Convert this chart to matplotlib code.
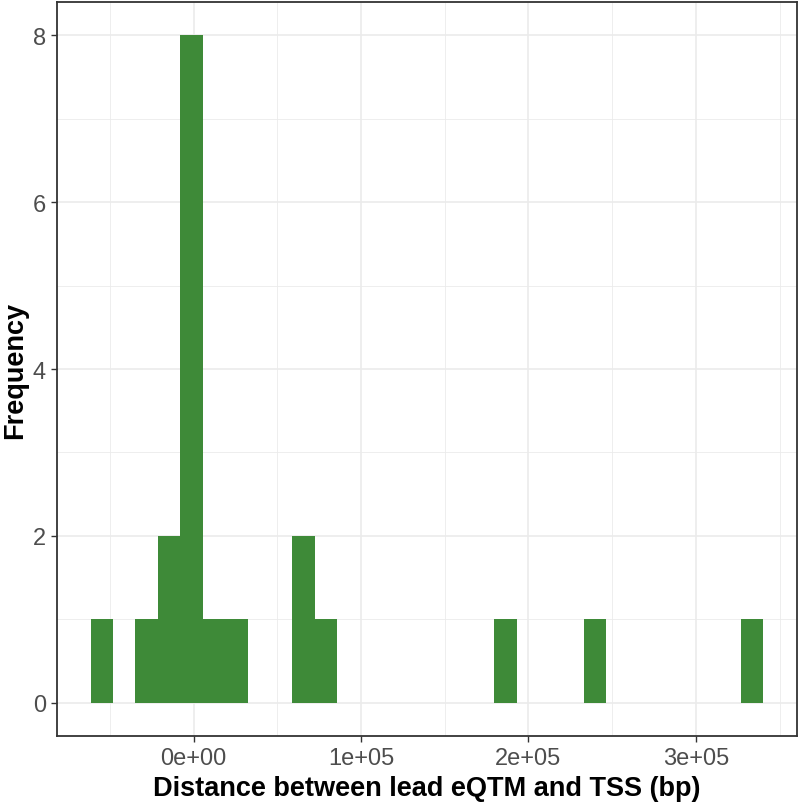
import numpy as np
from matplotlib import pyplot as plt

# histogram of distance between lead eQTM and TSS (30 bins, ggplot style)
dist_min = -54800    # centre of first bin (bp)
dist_max = 333600    # centre of last bin (bp)
counts = [1, 0, 1, 2, 8, 1, 1, 0, 0, 2,
          1, 0, 0, 0, 0, 0, 0, 0, 1, 0,
          0, 0, 1, 0, 0, 0, 0, 0, 0, 1]
x_ticks = [0, 100000, 200000, 300000]
x_labels = ["0e+00", "1e+05", "2e+05", "3e+05"]
y_ticks = [0, 2, 4, 6, 8]

n_bins = len(counts)
width = (dist_max - dist_min) / (n_bins - 1)
edges = dist_min - width / 2 + width * np.arange(n_bins + 1)
counts = np.array(counts)

plt.rcParams['font.family'] = ['Liberation Sans', 'DejaVu Sans']

fig = plt.figure(figsize=(8, 8.03), dpi=100)
ax = fig.add_axes([0.07125, 0.0822, 0.925, 0.914])

ax.bar(edges[:-1], counts, width=width, align='edge', color='#3e8a38',
       linewidth=0, zorder=3)

# ggplot-like expansion
xr = edges[-1] - edges[0]
ax.set_xlim(edges[0] - 0.05 * xr, edges[-1] + 0.05 * xr)
ax.set_ylim(-0.05 * 8, 8 * 1.05)

ax.set_xticks(x_ticks)
ax.set_xticklabels(x_labels)
ax.set_yticks(y_ticks)
ax.set_xticks([-50000, 50000, 150000, 250000, 350000], minor=True)
ax.set_yticks([1, 3, 5, 7], minor=True)

ax.grid(which='major', color='#ebebeb', linewidth=1.2, zorder=0)
ax.grid(which='minor', color='#ebebeb', linewidth=0.6, zorder=0)
ax.set_axisbelow(True)

for s in ax.spines.values():
    s.set_color('#333333')
    s.set_linewidth(1.3)

ax.tick_params(which='major', length=4, width=1, color='#333333',
               labelsize=17, labelcolor='#4d4d4d', pad=4)
ax.tick_params(which='minor', length=0)

ax.set_xlabel('Distance between lead eQTM and TSS (bp)', fontsize=19.5,
              fontweight='bold', labelpad=4)
ax.set_ylabel('Frequency', fontsize=19.5, fontweight='bold', labelpad=3)

fig.savefig('out.png', dpi=100)
